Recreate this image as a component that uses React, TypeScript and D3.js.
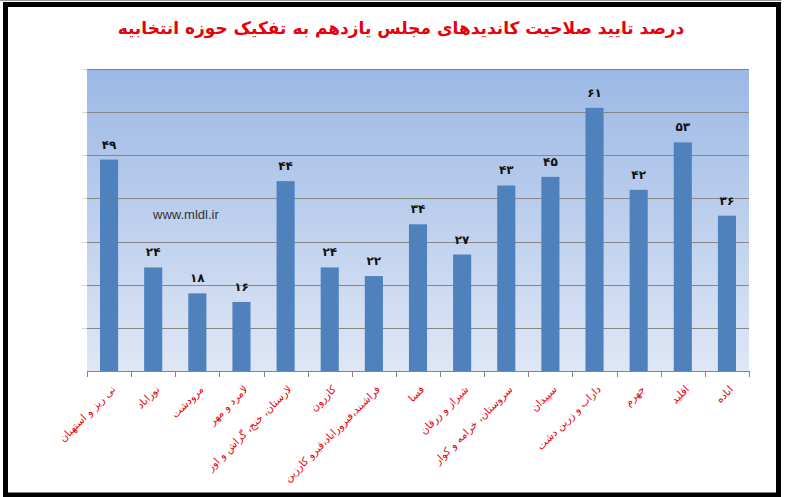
import { useEffect, useRef } from 'react';
import * as d3 from 'd3';

const title = 'درصد تایید صلاحیت کاندیدهای مجلس یازدهم به تفکیک حوزه انتخابیه';

const districts = [
  'نی ریز و استهبان',
  'نوراباد',
  'مرودشت',
  'لامرد و مهر',
  'لارستان، خنج، گراش و اوز',
  'کازرون',
  'فراشبند،فیروزاباد،قیرو کارزین',
  'فسا',
  'شیراز و زرقان',
  'سروستان، خرامه و کوار',
  'سپیدان',
  'داراب و زرین دشت',
  'جهرم',
  'اقلید',
  'اباده',
];

const approved = [49, 24, 18, 16, 44, 24, 22, 34, 27, 43, 45, 61, 42, 53, 36];

const yTicks = [0, 10, 20, 30, 40, 50, 60, 70];

const faDigits = '۰۱۲۳۴۵۶۷۸۹';
const toFa = (n: number) => String(n).replace(/\d/g, d => faDigits[+d]);

const W = 788;
const H = 497;
const margin = { top: 69, right: 39, bottom: 126, left: 87 };

const App = () => {
  const svgRef = useRef<SVGSVGElement>(null);

  useEffect(() => {
    if (!svgRef.current) return;
    const svg = d3.select(svgRef.current);
    svg.selectAll('*').remove();

    const innerWidth = W - margin.left - margin.right;
    const innerHeight = H - margin.top - margin.bottom;

    // page background and frame
    svg.append('rect').attr('width', W).attr('height', H).attr('fill', '#fff');
    svg.append('line')
      .attr('x1', 0).attr('x2', 781).attr('y1', 0.5).attr('y2', 0.5)
      .attr('stroke', '#9a9a9a').attr('stroke-width', 1);
    svg.append('rect')
      .attr('x', 5.5).attr('y', 4.5)
      .attr('width', 773).attr('height', 490.5)
      .attr('fill', 'none')
      .attr('stroke', '#000')
      .attr('stroke-width', 5);

    svg.append('text')
      .attr('x', 401)
      .attr('y', 34)
      .attr('text-anchor', 'middle')
      .attr('font-family', '"DejaVu Sans", sans-serif')
      .attr('font-weight', 'bold')
      .attr('font-size', 17)
      .attr('fill', '#e8000b')
      .text(title);

    const defs = svg.append('defs');
    const grad = defs.append('linearGradient')
      .attr('id', 'plotBg')
      .attr('x1', 0).attr('y1', 0).attr('x2', 0).attr('y2', 1);
    grad.append('stop').attr('offset', '0%').attr('stop-color', '#9bb8e5');
    grad.append('stop').attr('offset', '100%').attr('stop-color', '#dfe7f5');

    const g = svg.append('g')
      .attr('transform', `translate(${margin.left},${margin.top})`);

    const x = d3.scaleBand<string>()
      .domain(districts)
      .range([0, innerWidth])
      .paddingInner(0.59)
      .paddingOuter(0.295);

    const y = d3.scaleLinear()
      .domain([0, 70])
      .range([innerHeight, 0]);

    g.append('rect')
      .attr('width', innerWidth)
      .attr('height', innerHeight)
      .attr('fill', 'url(#plotBg)');

    // gridlines
    g.selectAll('.grid')
      .data(yTicks.slice(1))
      .enter()
      .append('line')
      .attr('x1', 0)
      .attr('x2', innerWidth)
      .attr('y1', d => Math.round(y(d)) + 0.5)
      .attr('y2', d => Math.round(y(d)) + 0.5)
      .attr('stroke', '#878787')
      .attr('stroke-width', 1);

    // faint y ticks (no labels)
    g.selectAll('.ytick')
      .data(yTicks.slice(1))
      .enter()
      .append('line')
      .attr('x1', -5)
      .attr('x2', 0)
      .attr('y1', d => Math.round(y(d)) + 0.5)
      .attr('y2', d => Math.round(y(d)) + 0.5)
      .attr('stroke', '#d8d8d8');

    // bars
    g.selectAll('.bar')
      .data(approved)
      .enter()
      .append('rect')
      .attr('x', (_, i) => x(districts[i])!)
      .attr('y', d => y(d))
      .attr('width', x.bandwidth())
      .attr('height', d => innerHeight - y(d))
      .attr('fill', '#4f81bd');

    // value labels
    g.selectAll('.val')
      .data(approved)
      .enter()
      .append('text')
      .attr('x', (_, i) => x(districts[i])! + x.bandwidth() / 2)
      .attr('y', d => y(d) - 11)
      .attr('text-anchor', 'middle')
      .attr('font-family', '"DejaVu Sans", sans-serif')
      .attr('font-weight', 'bold')
      .attr('font-size', 12)
      .attr('fill', '#111')
      .text(d => toFa(d));

    // x axis
    const step = x.step();
    const axis = g.append('g').attr('transform', `translate(0,${innerHeight})`);
    axis.append('line')
      .attr('x1', 0).attr('x2', innerWidth)
      .attr('y1', 0.5).attr('y2', 0.5)
      .attr('stroke', '#868686');
    axis.selectAll('.tick')
      .data(d3.range(districts.length + 1))
      .enter()
      .append('line')
      .attr('x1', i => Math.round(i * step) + 0.5)
      .attr('x2', i => Math.round(i * step) + 0.5)
      .attr('y1', 0)
      .attr('y2', 6)
      .attr('stroke', '#868686');

    axis.selectAll('.lbl')
      .data(districts)
      .enter()
      .append('text')
      .attr('transform', d => `translate(${x(d)! + x.bandwidth() / 2 + 7},${19}) rotate(-45)`)
      .attr('text-anchor', 'end')
      .attr('font-family', '"DejaVu Sans", sans-serif')
      .attr('font-size', 10.5)
      .attr('fill', '#e8000b')
      .text(d => d);

    // watermark
    svg.append('text')
      .attr('x', 153)
      .attr('y', 219)
      .attr('font-family', 'Arial, "Liberation Sans", sans-serif')
      .attr('font-size', 13)
      .attr('fill', '#333')
      .text('www.mldl.ir');
  }, []);

  return (
    <svg
      ref={svgRef}
      width={W}
      height={H}
      style={{ position: 'absolute', left: 0, top: 0 }}
    />
  );
};

export default App;
